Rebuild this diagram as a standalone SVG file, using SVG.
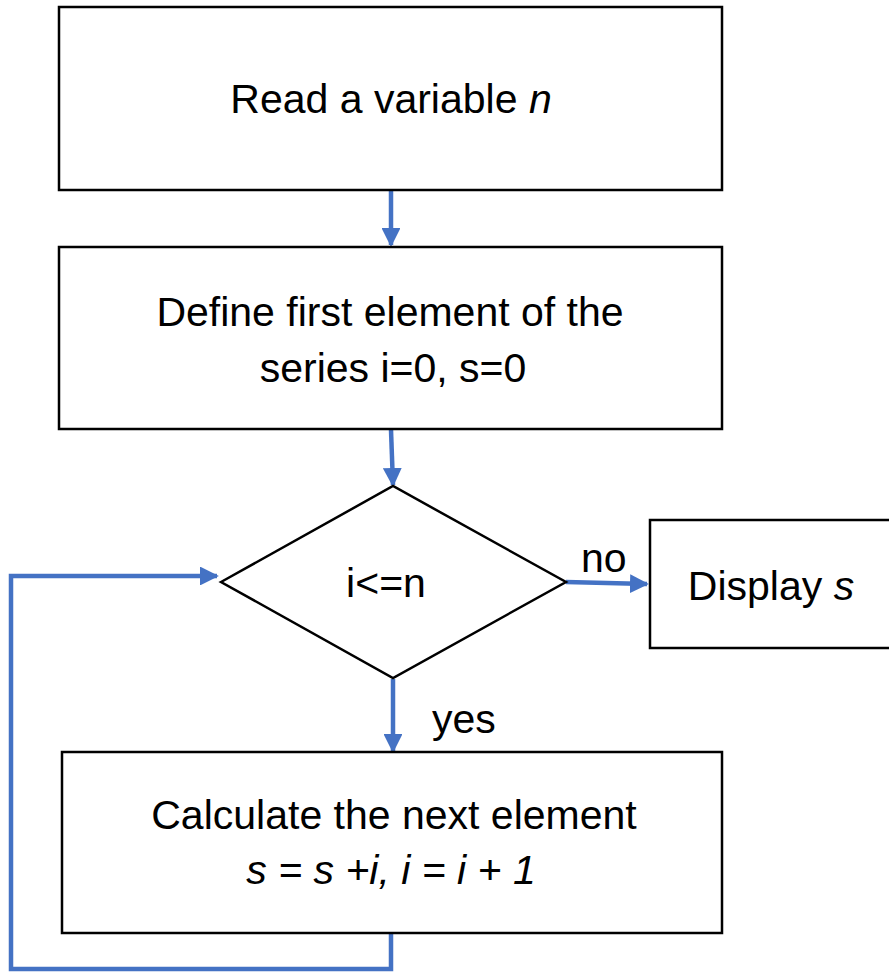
<svg xmlns="http://www.w3.org/2000/svg" width="889" height="973" viewBox="0 0 889 973">
<style>
.box{fill:#fff;stroke:#000;stroke-width:2.5}
.t{font-family:"Liberation Sans","Noto Sans",sans-serif;font-size:41px;fill:#000}
.c{fill:none;stroke:#4472C4;stroke-width:4.5}
.i{font-style:italic}
</style>
<defs>
<marker id="ah" viewBox="0 0 10 10" refX="9" refY="5" markerWidth="4.2" markerHeight="4.2" orient="auto" markerUnits="strokeWidth">
<path d="M0,0 L10,5 L0,10 z" fill="#4472C4"/>
</marker>
</defs>
<rect width="889" height="973" fill="#fff"/>
<g id="connectors">
<path class="c" d="M391,191 L391,245" marker-end="url(#ah)"/>
<path class="c" d="M391,430 L393,485" marker-end="url(#ah)"/>
<path class="c" d="M566,582 L647,584" marker-end="url(#ah)"/>
<path class="c" d="M393,679 L393,751" marker-end="url(#ah)"/>
<path class="c" d="M391,933 L391,969 L11,969 L11,576 L217,576" marker-end="url(#ah)"/>
</g>
<g id="n1">
<rect class="box" x="59" y="7" width="663" height="183"/>
<text class="t" x="391" y="113" text-anchor="middle">Read a variable <tspan class="i">n</tspan></text>
</g>
<g id="n2">
<rect class="box" x="59" y="247" width="663" height="182"/>
<text class="t" x="390" y="326" text-anchor="middle">Define first element of the</text>
<text class="t" x="393" y="382" text-anchor="middle">series i=0, s=0</text>
</g>
<g id="n3">
<polygon class="box" points="221,582 393,486 566,582 393,678"/>
<text class="t" x="386" y="597" text-anchor="middle">i&lt;=n</text>
</g>
<g id="n4">
<rect class="box" x="650" y="520" width="245" height="128"/>
<text class="t" x="771" y="600" text-anchor="middle">Display <tspan class="i">s</tspan></text>
</g>
<g id="n5">
<rect class="box" x="62" y="752" width="660" height="181"/>
<text class="t" x="394" y="829" text-anchor="middle">Calculate the next element</text>
<text class="t i" x="391" y="884" text-anchor="middle">s = s +i, i = i + 1</text>
</g>
<g id="labels">
<text class="t" x="581" y="572">no</text>
<text class="t" x="432" y="733">yes</text>
</g>
</svg>
